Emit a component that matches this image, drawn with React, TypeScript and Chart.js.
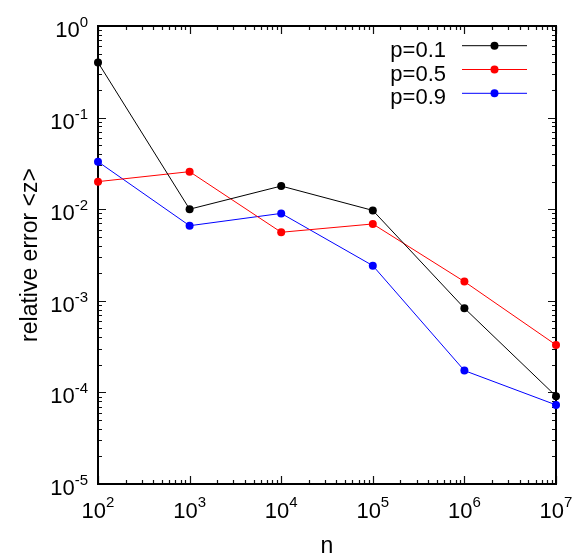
import React, { useEffect, useRef } from 'react';
import { Chart, registerables } from 'chart.js';

Chart.register(...registerables);

const nValues = [1e2, 1e3, 1e4, 1e5, 1e6, 1e7];
const seriesP01 = [0.40, 0.0100, 0.0179, 0.0097, 8.3e-4, 9.1e-5];
const seriesP05 = [0.020, 0.0257, 0.0056, 0.0069, 1.62e-3, 3.3e-4];
const seriesP09 = [0.033, 0.0066, 0.0090, 2.42e-3, 1.73e-4, 7.3e-5];
const seriesLabels = ['p=0.1', 'p=0.5', 'p=0.9'];
const seriesColors = ['#000000', '#ff0000', '#0000ff'];
const xTickExponents = [2, 3, 4, 5, 6, 7];
const yTickExponents = [0, -1, -2, -3, -4, -5];
const xTitle = 'n';
const yTitle = 'relative error <z>';

const FONT = '"Liberation Sans", Arial, sans-serif';

function drawPower(ctx: CanvasRenderingContext2D, exp: number, startX: number, base10: number, baseExp: number) {
  ctx.font = `22px ${FONT}`;
  ctx.textAlign = 'left';
  ctx.textBaseline = 'alphabetic';
  ctx.fillText('10', startX, base10);
  const w10 = ctx.measureText('10').width;
  ctx.font = `15px ${FONT}`;
  ctx.fillText(String(exp), startX + w10, baseExp);
}

function powerWidth(ctx: CanvasRenderingContext2D, exp: number) {
  ctx.font = `22px ${FONT}`;
  const w10 = ctx.measureText('10').width;
  ctx.font = `15px ${FONT}`;
  return w10 + ctx.measureText(String(exp)).width;
}

const gnuplotAxes = {
  id: 'gnuplotAxes',
  beforeDatasetsDraw(chart: any) {
    const ctx: CanvasRenderingContext2D = chart.ctx;
    const { left, right, top, bottom } = chart.chartArea;
    const xs = chart.scales.x;
    const ys = chart.scales.y;
    ctx.save();
    ctx.strokeStyle = '#111';
    ctx.lineWidth = 1.2;
    // x ticks
    for (let d = 2; d <= 7; d++) {
      for (let k = 1; k <= 9; k++) {
        const v = k * Math.pow(10, d);
        if (v > 1e7 * 1.0001) break;
        const px = Math.round(xs.getPixelForValue(v)) + 0.5;
        const len = k === 1 ? 8 : 4;
        ctx.beginPath();
        ctx.moveTo(px, bottom);
        ctx.lineTo(px, bottom - len);
        ctx.moveTo(px, top);
        ctx.lineTo(px, top + len);
        ctx.stroke();
      }
    }
    // y ticks
    for (let d = -5; d <= 0; d++) {
      for (let k = 1; k <= 9; k++) {
        const v = k * Math.pow(10, d);
        if (v > 1.0001) break;
        const py = Math.round(ys.getPixelForValue(v)) + 0.5;
        const len = k === 1 ? 8 : 4;
        ctx.beginPath();
        ctx.moveTo(left, py);
        ctx.lineTo(left + len, py);
        ctx.moveTo(right, py);
        ctx.lineTo(right - len, py);
        ctx.stroke();
      }
    }
    // border
    ctx.strokeStyle = '#000';
    ctx.lineWidth = 2;
    ctx.strokeRect(left, top, right - left, bottom - top);

    // tick labels
    ctx.fillStyle = '#000';
    xTickExponents.forEach((e) => {
      const px = xs.getPixelForValue(Math.pow(10, e));
      const w = powerWidth(ctx, e);
      drawPower(ctx, e, px - w / 2, bottom + 34, bottom + 23);
    });
    yTickExponents.forEach((e) => {
      const py = ys.getPixelForValue(Math.pow(10, e));
      const w = powerWidth(ctx, e);
      drawPower(ctx, e, left - 10 - w, py + 11, py + 1);
    });

    // axis titles
    ctx.font = `23px ${FONT}`;
    ctx.textAlign = 'center';
    ctx.textBaseline = 'alphabetic';
    ctx.fillText(xTitle, (left + right) / 2, 553);
    ctx.save();
    ctx.translate(37, (top + bottom) / 2);
    ctx.rotate(-Math.PI / 2);
    ctx.fillText(yTitle, 0, 0);
    ctx.restore();

    ctx.restore();
  },
  afterDatasetsDraw(chart: any) {
    const ctx: CanvasRenderingContext2D = chart.ctx;
    const { top } = chart.chartArea;
    ctx.save();
    seriesLabels.forEach((label, i) => {
      const rowY = top + 19.7 + i * 23.8;
      ctx.font = `22px ${FONT}`;
      ctx.textAlign = 'right';
      ctx.textBaseline = 'alphabetic';
      ctx.fillStyle = '#000';
      ctx.fillText(label, 446, rowY + 11);
      ctx.strokeStyle = seriesColors[i];
      ctx.lineWidth = 1;
      ctx.beginPath();
      ctx.moveTo(462, rowY);
      ctx.lineTo(527, rowY);
      ctx.stroke();
      ctx.fillStyle = seriesColors[i];
      ctx.beginPath();
      ctx.arc(494.5, rowY, 4, 0, Math.PI * 2);
      ctx.fill();
    });
    ctx.restore();
  },
};

export default function App() {
  const canvasRef = useRef<HTMLCanvasElement | null>(null);

  useEffect(() => {
    if (!canvasRef.current) return;
    const allSeries = [seriesP01, seriesP05, seriesP09];
    const chart = new Chart(canvasRef.current, {
      type: 'scatter',
      data: {
        datasets: allSeries.map((s, i) => ({
          label: seriesLabels[i],
          data: nValues.map((n, j) => ({ x: n, y: s[j] })),
          showLine: true,
          borderColor: seriesColors[i],
          backgroundColor: seriesColors[i],
          borderWidth: 1,
          pointRadius: 4,
          pointBorderWidth: 0,
          pointBackgroundColor: seriesColors[i],
          clip: false as any,
        })),
      },
      options: {
        animation: false,
        responsive: false,
        devicePixelRatio: 1,
        layout: { padding: { left: 98, top: 26, right: 21, bottom: 76 } },
        plugins: { legend: { display: false }, tooltip: { enabled: false } },
        scales: {
          x: { type: 'logarithmic', min: 1e2, max: 1e7, display: false },
          y: { type: 'logarithmic', min: 1e-5, max: 1, display: false },
        },
      },
      plugins: [gnuplotAxes],
    });
    return () => chart.destroy();
  }, []);

  return (
    <canvas
      ref={canvasRef}
      width={577}
      height={560}
      style={{ position: 'fixed', left: 0, top: 0, width: 577, height: 560, background: '#fff' }}
    />
  );
}
